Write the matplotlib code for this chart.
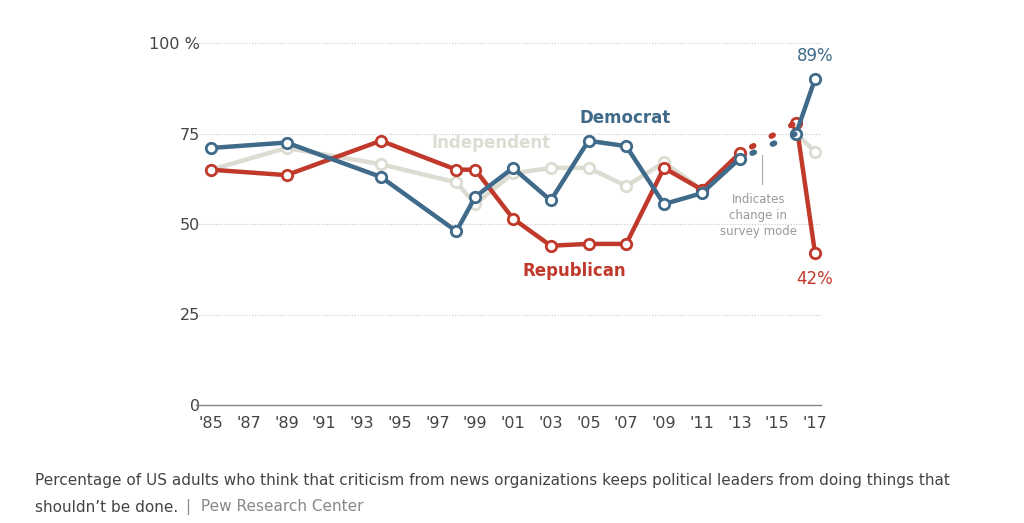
import matplotlib
matplotlib.use("Agg")
import matplotlib.pyplot as plt

years = [1985, 1989, 1994, 1998, 1999, 2001, 2003, 2005, 2007, 2009, 2011, 2013]
dem = [71, 72.5, 63, 48, 57.5, 65.5, 56.5, 73, 71.5, 55.5, 58.5, 68]
rep = [65, 63.5, 73, 65, 65, 51.5, 44, 44.5, 44.5, 65.5, 59.5, 69.5]
ind = [65, 71, 66.5, 61.5, 55.5, 64, 65.5, 65.5, 60.5, 67, 59.5, 68]
late_years = [2016, 2017]
dem_late = [75, 90]
rep_late = [78, 42]
ind_late = [75, 70]
xticks = list(range(1985, 2018, 2))
xlabels = ["'%02d" % (y % 100) for y in xticks]

DEM = "#3f6a8a"; REP = "#c0392b"; IND = "#dcdcd2"
fig = plt.figure(figsize=(10.24, 5.23), dpi=100)
ax = fig.add_axes([211/1024, (523-405)/523, (815-211)/1024, (405-43)/523])
ax.set_xlim(1985, 2017); ax.set_ylim(0, 100)
for s in ax.spines.values(): s.set_visible(False)
for v in [25, 50, 75, 100]:
    ax.plot([1984.2, 2017.3], [v, v], ls=(0, (1, 1.5)), color="#c8c8c8", lw=0.8, clip_on=False, zorder=0)
ax.plot([1984.2, 2017.3], [0, 0], color="#888888", lw=1, clip_on=False)
ax.tick_params(length=0, labelsize=11.5, colors="#444444", pad=8)
ax.set_xticks(xticks, xlabels)
ax.set_yticks([0, 25, 50, 75, 100], ["0", "25", "50", "75", "100 %"])

def series(y, v, yl, vl, c, z):
    kw = dict(color=c, lw=3.2, marker="o", ms=7.5, mfc="white", mew=2, clip_on=False, zorder=z)
    ax.plot(y, v, **kw)
    ax.plot(yl, vl, **kw)
    ax.plot([y[-1], yl[0]], [v[-1], vl[0]], color=c, lw=4, ls=(1.5, (0.4, 3.6)), dash_capstyle="round", zorder=z)

series(years, ind, late_years, ind_late, IND, 2)
series(years, rep, late_years, rep_late, REP, 3)
series(years, dem, late_years, dem_late, DEM, 4)

ax.text(2004.5, 78, "Democrat", color=DEM, fontsize=12, fontweight="bold")
ax.text(1996.7, 71, "Independent", color=IND, fontsize=12, fontweight="bold")
ax.text(2001.5, 35.5, "Republican", color=REP, fontsize=12, fontweight="bold")
ax.text(2017, 95, "89%", color=DEM, fontsize=12, ha="center")
ax.text(2017, 33.5, "42%", color=REP, fontsize=12, ha="center")
ax.plot([2014.2, 2014.2], [69, 61], color="#aaaaaa", lw=0.8)
ax.text(2014.0, 46, "Indicates\nchange in\nsurvey mode", color="#999999", fontsize=8.5,
        ha="center", va="bottom", linespacing=1.3)

fig.text(35/1024, 1-481/523, "Percentage of US adults who think that criticism from news organizations keeps political leaders from doing things that",
         fontsize=11, color="#444444", va="center")
fig.text(35/1024, 1-507/523, "shouldn\u2019t be done.", fontsize=11, color="#444444", va="center")
fig.text(186/1024, 1-507/523, "|  Pew Research Center", fontsize=11, color="#888888", va="center")
fig.savefig("out.png", dpi=100)
